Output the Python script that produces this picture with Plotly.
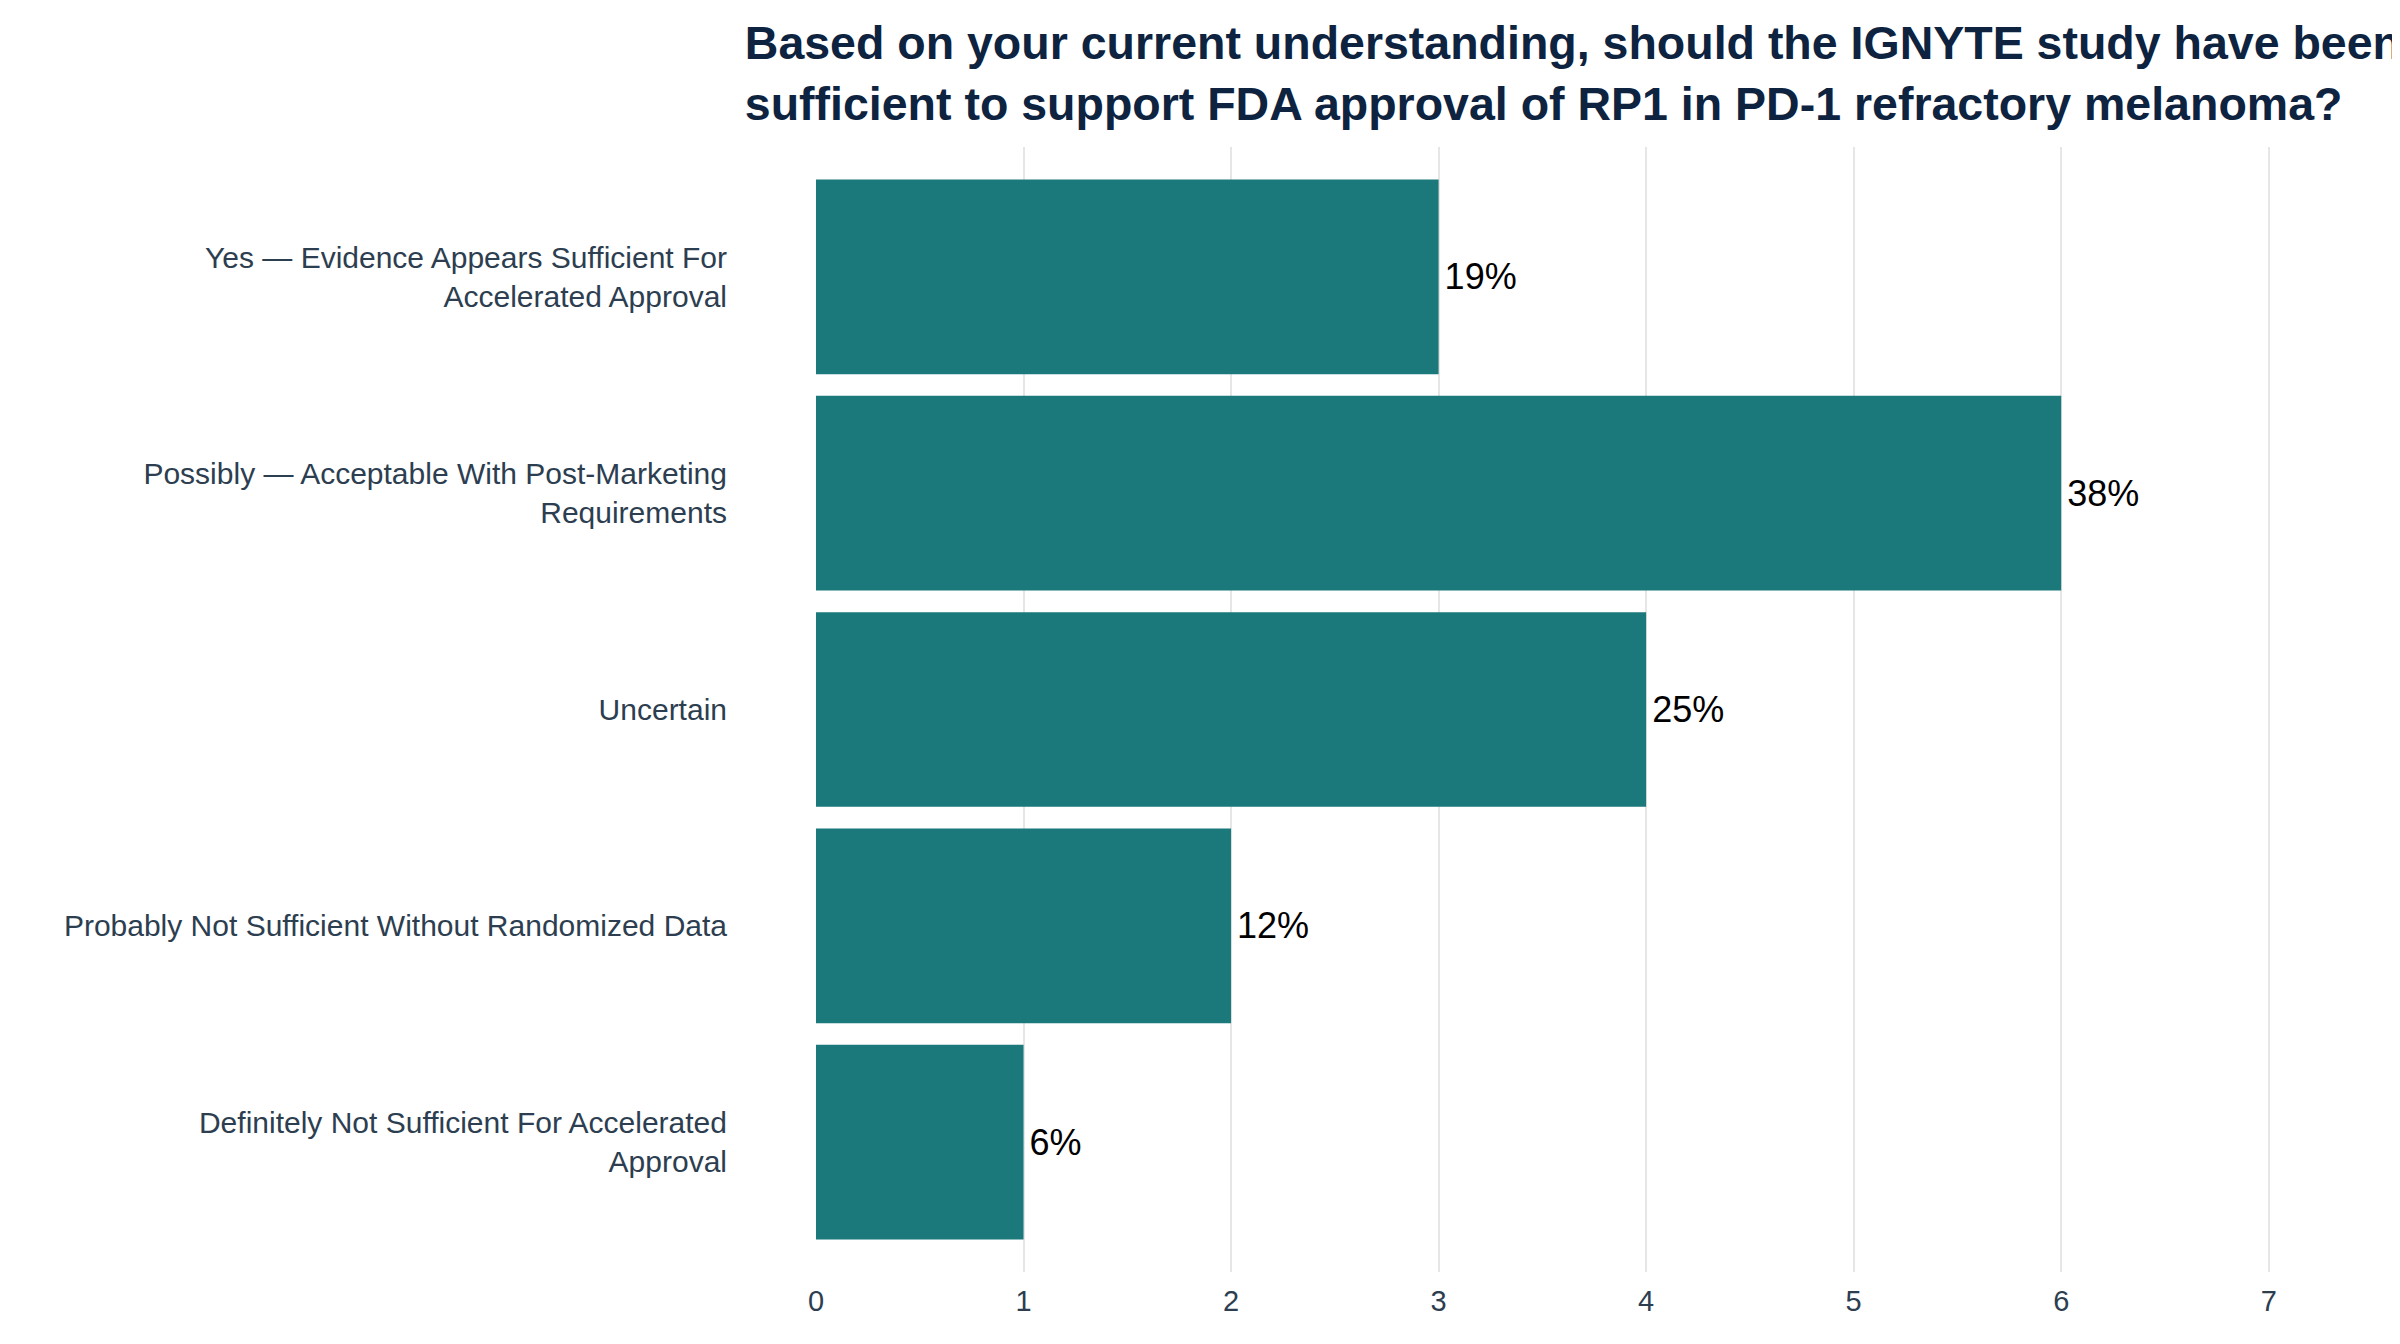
import plotly.graph_objects as go

# survey responses, top to bottom as shown
categories = [
    "Yes — Evidence Appears Sufficient For<br>Accelerated Approval",
    "Possibly — Acceptable With Post-Marketing<br>Requirements",
    "Uncertain",
    "Probably Not Sufficient Without Randomized Data",
    "Definitely Not Sufficient For Accelerated<br>Approval",
]
counts = [3, 6, 4, 2, 1]
pct_labels = ["19%", "38%", "25%", "12%", "6%"]

TITLE = ("Based on your current understanding, should the IGNYTE study have been<br>"
         "sufficient to support FDA approval of RP1 in PD-1 refractory melanoma?")

FONT = "Liberation Sans, Arial"

fig = go.Figure(go.Bar(
    x=counts, y=categories, orientation="h",
    marker=dict(color="#1b797b", line=dict(width=0)),
    text=pct_labels, texttemplate="\u200a%{text}", textposition="outside",
    textfont=dict(size=36, color="#000000", family=FONT),
    cliponaxis=False,
))

fig.update_layout(
    width=2400, height=1344,
    template="plotly_white",
    paper_bgcolor="white", plot_bgcolor="white",
    margin=dict(l=808, r=77, t=139, b=80, autoexpand=False),
    bargap=0.1,
    showlegend=False,
    font=dict(family=FONT, size=30, color="#2c3e50"),
    title=dict(
        text=TITLE, x=0.307, xanchor="left", xref="container",
        y=0.9617, yanchor="middle", yref="container",
        font=dict(size=46.5, color="#0d2340", family=FONT, weight="bold"),
    ),
    xaxis=dict(
        range=[0, 7.3], dtick=1, showgrid=True, gridcolor="#e6e6e6", gridwidth=2,
        zeroline=False, showline=False, ticks="", automargin=False,
        ticklabelstandoff=9,
        tickfont=dict(size=29, color="#2c3e50"),
    ),
    yaxis=dict(
        range=[4.6, -0.6], showgrid=False, zeroline=False, showline=False,
        ticks="", ticklabelstandoff=88, automargin=False,
        tickfont=dict(size=30, color="#2c3e50"),
    ),
)

fig.write_html("out.html")
